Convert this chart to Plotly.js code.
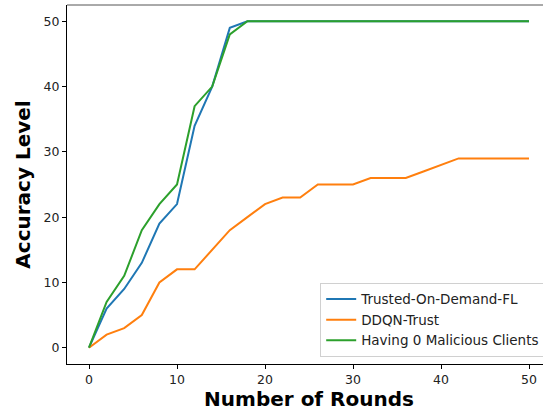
<!DOCTYPE html>
<html>
<head>
<meta charset="utf-8">
<script src="https://cdn.plot.ly/plotly-3.0.1.min.js"></script>
<style>
html, body { margin: 0; padding: 0; overflow: hidden; background: #fff; }
#chart { width: 600px; height: 413px; }
</style>
</head>
<body>
<div id="chart"></div>
<script>
const rounds = [0,2,4,6,8,10,12,14,16,18,20,22,24,26,28,30,32,34,36,38,40,42,44,46,48,50];
const trustedOnDemand = [0,6,9,13,19,22,34,40,49,50,50,50,50,50,50,50,50,50,50,50,50,50,50,50,50,50];
const ddqnTrust = [0,2,3,5,10,12,12,15,18,20,22,23,23,25,25,25,26,26,26,27,28,29,29,29,29,29];
const zeroMalicious = [0,7,11,18,22,25,37,40,48,50,50,50,50,50,50,50,50,50,50,50,50,50,50,50,50,50];
const seriesNames = ['Trusted-On-Demand-FL','DDQN-Trust','Having 0 Malicious Clients'];
const xTicks = [0,10,20,30,40,50];
const yTicks = [0,10,20,30,40,50];

const colors = ['#1f77b4','#ff7f0e','#2ca02c'];
const ys = [trustedOnDemand, ddqnTrust, zeroMalicious];
const traces = ys.map((y, i) => ({
  x: rounds, y: y, type: 'scatter', mode: 'lines', name: seriesNames[i],
  line: {color: colors[i], width: 2}
}));

const tickFont = {family: 'DejaVu Sans', size: 12.5, color: '#222'};
const layout = {
  width: 600, height: 413,
  margin: {l: 67, r: 49, t: 5, b: 49},
  paper_bgcolor: '#fff', plot_bgcolor: '#fff',
  showlegend: true,
  legend: {
    x: 0.988, y: 0.02, xanchor: 'right', yanchor: 'bottom',
    bordercolor: '#d0d0d0', borderwidth: 1, bgcolor: 'rgba(255,255,255,0.8)',
    font: {family: 'DejaVu Sans', size: 13.5, color: '#222'},
    tracegroupgap: 0, itemwidth: 30
  },
  xaxis: {
    range: [-2.5, 52.5], tickvals: xTicks, ticktext: xTicks.map(String),
    showgrid: false, zeroline: false, showline: true, linecolor: '#000', linewidth: 1,
    ticks: 'outside', ticklen: 4, tickcolor: '#000', tickfont: tickFont,
    title: {text: 'Number of Rounds', font: {family: 'DejaVu Sans', size: 20, color: '#000', weight: 'bold'}, standoff: 4}
  },
  yaxis: {
    range: [-2.5, 52.5], tickvals: yTicks, ticktext: yTicks.map(String),
    showgrid: false, zeroline: false, showline: true, linecolor: '#000', linewidth: 1,
    ticks: 'outside', ticklen: 4, tickcolor: '#000', tickfont: tickFont,
    title: {text: 'Accuracy Level', font: {family: 'DejaVu Sans', size: 20, color: '#000', weight: 'bold'}, standoff: 7}
  },
  shapes: [
    {type: 'line', xref: 'paper', yref: 'paper', x0: 0, x1: 1, y0: 1, y1: 1, line: {color: '#555', width: 1}},
    {type: 'line', xref: 'paper', yref: 'paper', x0: 1, x1: 1, y0: 0, y1: 1, line: {color: '#000', width: 1}}
  ]
};
Plotly.newPlot('chart', traces, layout, {staticPlot: true, displayModeBar: false});
</script>
</body>
</html>
